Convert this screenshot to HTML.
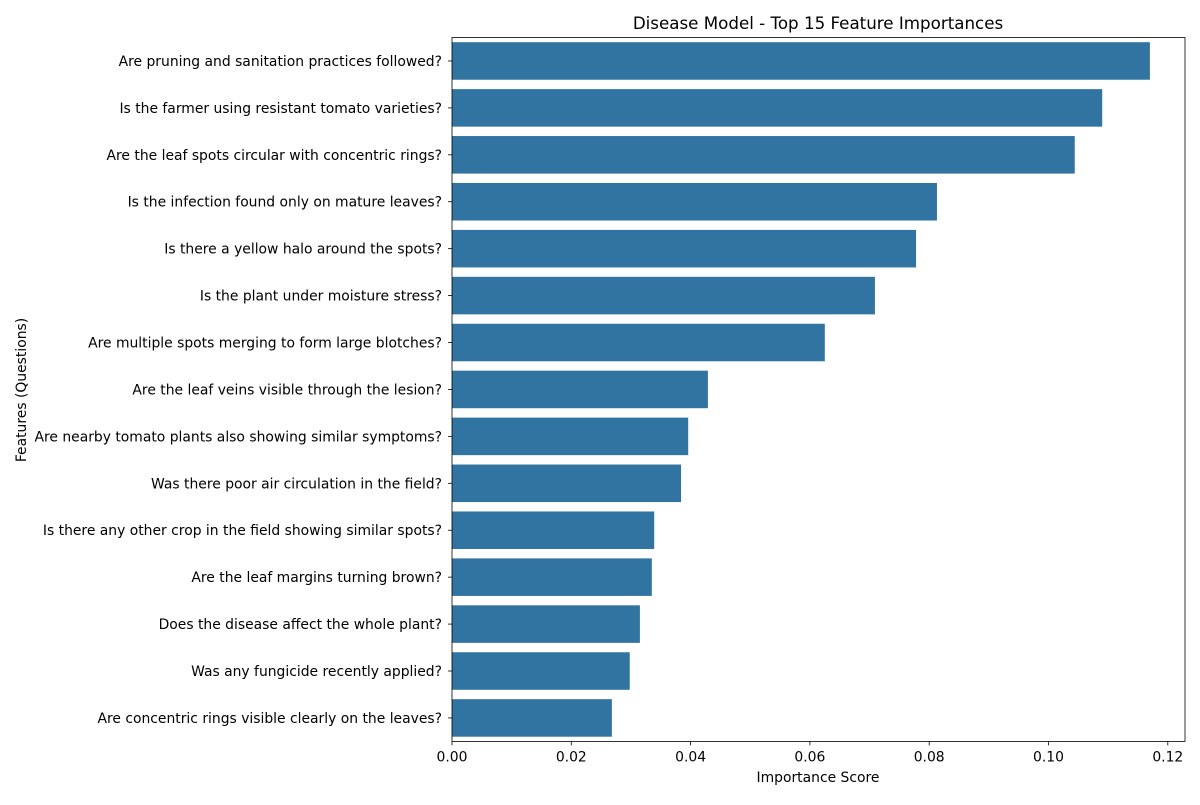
<!DOCTYPE html>
<html><head><meta charset="utf-8"><style>
body{margin:0;background:#fff;}
svg text{font-family:"DejaVu Sans","Liberation Sans",sans-serif;}
</style></head><body>
<svg id="chart" width="1200" height="800" xmlns="http://www.w3.org/2000/svg">
<text x="818" y="29" text-anchor="middle" font-size="16.7" fill="#000">Disease Model - Top 15 Feature Importances</text>
<text x="818" y="782" text-anchor="middle" font-size="13.9" fill="#000">Importance Score</text>
<text transform="translate(26,390) rotate(-90)" text-anchor="middle" font-size="13.9" fill="#000">Features (Questions)</text>
<g id="bars"></g><g id="axes"></g>
</svg>
<script>
const categories=["Are pruning and sanitation practices followed?","Is the farmer using resistant tomato varieties?","Are the leaf spots circular with concentric rings?","Is the infection found only on mature leaves?","Is there a yellow halo around the spots?","Is the plant under moisture stress?","Are multiple spots merging to form large blotches?","Are the leaf veins visible through the lesion?","Are nearby tomato plants also showing similar symptoms?","Was there poor air circulation in the field?","Is there any other crop in the field showing similar spots?","Are the leaf margins turning brown?","Does the disease affect the whole plant?","Was any fungicide recently applied?","Are concentric rings visible clearly on the leaves?"];
const values=[0.117,0.109,0.1044,0.0813,0.0778,0.0709,0.0625,0.0429,0.0396,0.0384,0.0339,0.0335,0.0315,0.0298,0.0268];
const xTicks=[0,0.02,0.04,0.06,0.08,0.1,0.12];
const xTickLabels=["0.00","0.02","0.04","0.06","0.08","0.10","0.12"];
const NS="http://www.w3.org/2000/svg";
const L=452,R=1185,T=37.5,B=741.4;
const xs=v=>L+v*5965;
const band=(B-T)/categories.length;
const ys=i=>T+band*i;
function mk(tag,attrs,parent){const e=document.createElementNS(NS,tag);for(const k in attrs)e.setAttribute(k,attrs[k]);parent.appendChild(e);return e;}
const gb=document.getElementById('bars'),ga=document.getElementById('axes');
categories.forEach((c,i)=>{
 const r=mk('rect',{x:L,y:ys(i)+band*0.1,width:xs(values[i])-L,height:band*0.8,fill:'#3274a1'},gb);
 
 
 const yc=ys(i)+band/2;
 mk('line',{x1:L-4,x2:L,y1:yc,y2:yc,stroke:'#000','stroke-width':0.8},ga);
 const t=mk('text',{x:L-10,y:yc+5,'text-anchor':'end','font-size':13.9,fill:'#000'},ga);
 t.textContent=c;
 
 
});
xTicks.forEach((v,i)=>{
 const x=xs(v);
 mk('line',{x1:x,x2:x,y1:B,y2:B+4,stroke:'#000','stroke-width':0.8},ga);
 const t=mk('text',{x:x,y:B+20,'text-anchor':'middle','font-size':13.9,fill:'#000'},ga);
 t.textContent=xTickLabels[i];
 
 
});
const f=mk('rect',{x:L,y:T,width:R-L,height:B-T,fill:'none',stroke:'#000','stroke-width':0.8},ga);


</script>
</body></html>
